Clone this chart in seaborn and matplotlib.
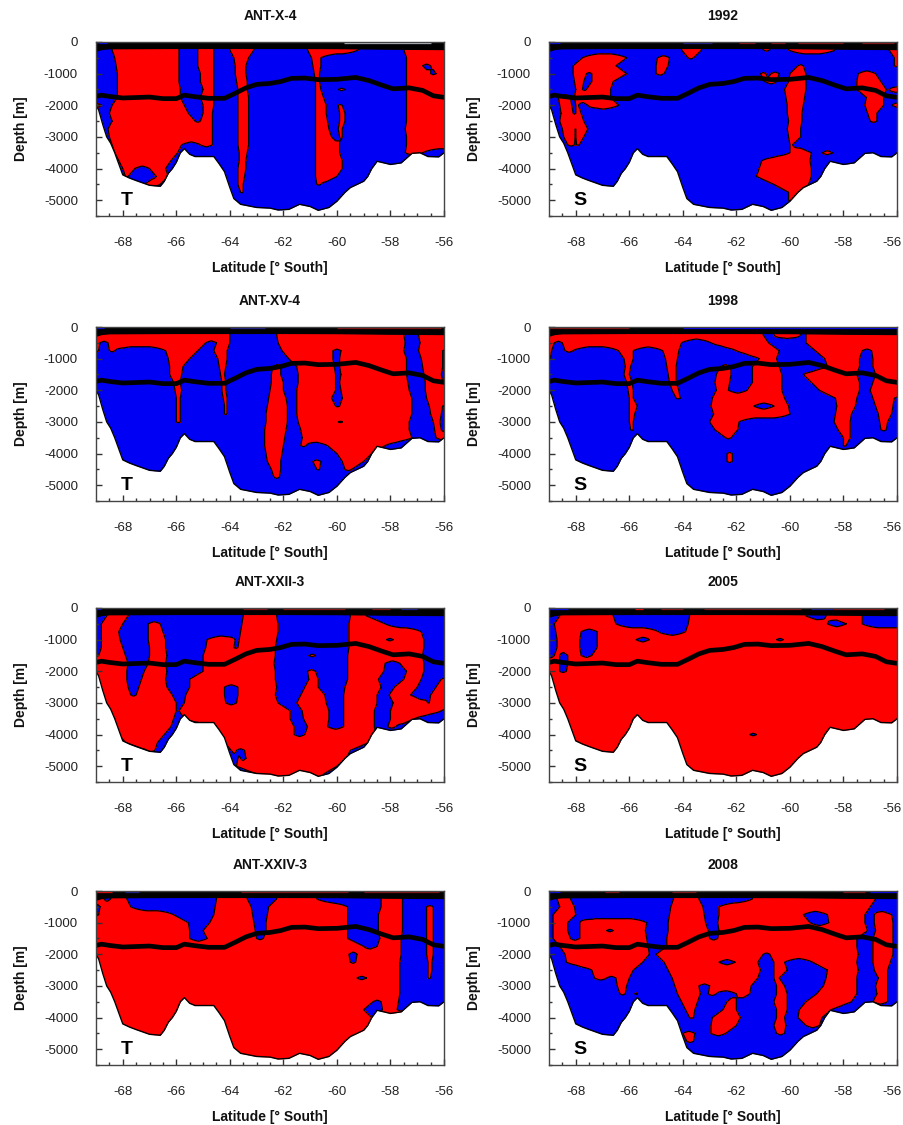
import numpy as np
import matplotlib
matplotlib.use('Agg')
import matplotlib.pyplot as plt
from matplotlib.transforms import ScaledTranslation
import seaborn as sns

W, H = 904, 1125

TITLES = ['ANT-X-4', '1992', 'ANT-XV-4', '1998', 'ANT-XXII-3', '2005', 'ANT-XXIV-3', '2008']
TAGS = ['T', 'S', 'T', 'S', 'T', 'S', 'T', 'S']
X_TICKS = [-68, -66, -64, -62, -60, -58, -56]
Y_TICKS = [0, -1000, -2000, -3000, -4000, -5000]

# sea floor
BOTTOM_LAT = [-69, -68.9, -68.75, -68.6, -68.45, -68.3, -68.15, -68, -67.75, -67.5, -67.2, -67, -66.6, -66.45,
              -66.3, -66.15, -66, -65.85, -65.7, -65.5, -65.3, -64.6, -64.4, -64.2, -64, -63.85, -63.6, -63,
              -62.5, -62.2, -61.8, -61.4, -61, -60.7, -60.3, -60, -59.7, -59.5, -59, -58.85, -58.7, -58.5, -58,
              -57.6, -57.2, -56.9, -56.6, -56.2, -56]
BOTTOM_DEPTH = [-2000, -2150, -2600, -3000, -3200, -3500, -3850, -4200, -4300, -4380, -4470, -4530, -4560, -4400,
                -4150, -4000, -3800, -3500, -3370, -3550, -3620, -3620, -3850, -4100, -4600, -4950, -5130, -5230,
                -5250, -5310, -5290, -5130, -5200, -5320, -5230, -5030, -4750, -4600, -4400, -4250, -4000, -3770,
                -3870, -3820, -3520, -3500, -3620, -3630, -3500]

# thick line in the middle of each section
MID_LAT = [-69, -68.8, -68.5, -68, -67, -66.5, -66, -65.7, -65.3, -64.8, -64.2, -63.8, -63.4, -63, -62.5, -62.1,
           -61.7, -61.2, -60.7, -60, -59.3, -58.8, -58.3, -57.9, -57.3, -56.8, -56.4, -56]
MID_DEPTH = [-1720, -1680, -1720, -1770, -1740, -1790, -1790, -1680, -1730, -1780, -1780, -1620, -1450, -1340,
             -1310, -1250, -1150, -1140, -1190, -1180, -1120, -1220, -1370, -1480, -1450, -1530, -1700, -1750]

# black band at the surface
TOP_LAT = [-69, -68.8, -68.5, -66, -62, -60, -58, -56]
TOP_DEPTH = [-190, -140, -115, -105, -105, -110, -130, -140]

# thin coloured slivers above the band, per panel
DARK_RED, DARK_BLUE, GREY = '#8c0f0f', '#1c1c90', '#b4bcc4'
STRIPS = [
    [(-68.9, -68.6, 'blue'), (-59.75, -56.5, GREY)],
    [(-68.95, -68.6, 'blue'), (-64, -62.9, DARK_BLUE), (-61.9, -61.3, DARK_RED), (-60.7, -60.2, DARK_RED),
     (-59.7, -58, DARK_RED), (-57.3, -56.1, DARK_RED)],
    [(-69, -68.7, 'blue'), (-64, -62.7, DARK_BLUE), (-60, -56.1, DARK_RED)],
    [(-69, -66, DARK_RED), (-64, -56, 'blue')],
    [(-69, -68.8, 'blue'), (-63.5, -62.6, DARK_RED), (-62, -59.7, DARK_RED), (-58.7, -58, DARK_RED), (-57.6, -57, DARK_BLUE)],
    [(-69, -68.3, 'blue'), (-65.8, -65.5, 'red'), (-64.8, -64, DARK_RED), (-63.2, -59.6, DARK_RED),
     (-59.2, -58.4, DARK_BLUE), (-58.4, -56.5, DARK_RED)],
    [(-69, -68.4, 'red'), (-67.9, -67.4, DARK_BLUE), (-63.6, -59.6, DARK_RED), (-59, -56.2, DARK_RED)],
    [(-69, -68.6, 'blue'), (-66.9, -66.4, DARK_RED), (-64.4, -63.5, DARK_RED), (-58, -57.2, DARK_RED), (-57, -56, 'blue')],
]

DEPTH_ROWS = [-250, -500, -750, -1000, -1250, -1500, -1750, -2000, -2250, -2500, -2750, -3000, -3250,
              -3500, -3750, -4000, -4250, -4500, -4750, -5000, -5250]

# patches per depth row, in latitude
PATCH_X4 = [
    [(-68.4, -65.9), (-65.2, -64.6), (-64.0, -63.1), (-61.1, -59.2), (-57.5, -56)],
    [(-68.3, -65.9), (-65.2, -64.6), (-63.85, -63.3), (-60.95, -60.6), (-57.4, -56)],
    [(-68.25, -65.9), (-65.2, -64.6), (-63.8, -63.4), (-60.9, -60.6), (-57.4, -56.8), (-56.5, -56)],
    [(-68.2, -65.9), (-65.1, -64.6), (-63.8, -63.4), (-60.85, -60.65), (-57.4, -56.5), (-56.3, -56)],
    [(-68.2, -65.9), (-65.1, -64.6), (-63.75, -63.35), (-60.8, -60.65), (-57.4, -56)],
    [(-68.2, -65.85), (-65.0, -64.6), (-63.7, -63.35), (-60.8, -60.6), (-59.95, -59.7), (-57.4, -56)],
    [(-68.2, -65.85), (-65.1, -64.6), (-63.7, -63.3), (-60.8, -60.5), (-57.4, -56)],
    [(-69, -68.8), (-68.4, -65.7), (-65.0, -64.6), (-63.7, -63.3), (-60.8, -60.4), (-59.95, -59.8), (-57.4, -56)],
    [(-68.5, -65.55), (-65.0, -64.65), (-63.7, -63.3), (-60.8, -60.4), (-59.9, -59.7), (-57.4, -56)],
    [(-68.4, -65.3), (-65.1, -64.65), (-63.7, -63.3), (-60.8, -60.35), (-59.9, -59.7), (-57.4, -56)],
    [(-68.55, -64.65), (-63.7, -63.3), (-60.8, -60.3), (-59.95, -59.8), (-57.45, -56)],
    [(-68.5, -64.65), (-63.7, -63.3), (-60.8, -60.2), (-59.9, -59.8), (-57.4, -56)],
    [(-68.4, -65.8), (-65.1, -64.65), (-63.7, -63.3), (-60.8, -59.9), (-57.4, -56)],
    [(-68.3, -65.95), (-63.65, -63.35), (-60.8, -59.9), (-57.45, -56.8)],
    [(-68.15, -66.2), (-63.65, -63.4), (-60.8, -59.8)],
    [(-68.0, -67.55), (-67.0, -66.4), (-63.7, -63.4), (-60.8, -59.8)],
    [(-67.9, -67.8), (-66.75, -66.3), (-63.7, -63.45), (-60.8, -60.0)],
    [(-67.2, -66.6), (-63.7, -63.5), (-60.75, -60.6)],
    [(-63.6, -63.5)],
]
PATCH_1992 = [
    [(-64.05, -63.3), (-61.0, -60.75), (-60.05, -58.3), (-56.3, -56)],
    [(-67.75, -66.1), (-64.95, -64.5), (-63.8, -63.6), (-56.1, -56)],
    [(-68.1, -66.5), (-65.0, -64.55), (-59.7, -59.5), (-56.1, -56)],
    [(-68.1, -67.6), (-67.4, -66.1), (-65.0, -64.7), (-61.1, -60.9), (-60.7, -60.4), (-60, -59.4), (-57.45, -56.8)],
    [(-68.05, -67.7), (-67.4, -66.6), (-60.95, -60.5), (-60.05, -59.4), (-57.5, -56.6)],
    [(-68, -67.75), (-67.6, -66.7), (-60.2, -59.4), (-57.5, -56.4), (-56.3, -56)],
    [(-68.65, -68.2), (-68.05, -66.7), (-60.15, -59.45), (-57.15, -56.5)],
    [(-68.6, -68.15), (-68.0, -67.9), (-67.55, -66.4), (-60.1, -59.5), (-57.2, -56.5), (-56.2, -56)],
    [(-68.55, -68.1), (-68.0, -67.8), (-60.1, -59.55), (-57.1, -56.75)],
    [(-68.6, -67.7), (-60.05, -59.55), (-57.0, -56.75)],
    [(-68.5, -68.05), (-68.0, -67.55), (-60.1, -59.6)],
    [(-68.45, -68.05), (-68, -67.7), (-60.05, -59.6)],
    [(-68.3, -68.05), (-67.97, -67.87), (-60.0, -59.9)],
    [(-60.0, -59.2), (-58.8, -58.4)],
    [(-61.05, -59.25)],
    [(-61.15, -59.2)],
    [(-61.25, -59.2)],
    [(-60.6, -59.3)],
    [(-60.05, -59.6)],
    [(-60.05, -59.8)],
]
PATCH_XV4 = [
    [(-69, -64), (-62.25, -57.5), (-56.95, -56)],
    [(-69, -68.85), (-68.55, -64.9), (-64.5, -64.0), (-62.2, -57.45), (-56.9, -56)],
    [(-69, -68.9), (-68.5, -68.3), (-66.4, -65.2), (-64.6, -64.1), (-62.05, -60.15), (-59.85, -57.5), (-56.95, -56.05)],
    [(-66.3, -65.5), (-64.45, -64.1), (-61.8, -60.15), (-59.9, -57.4), (-56.85, -56.05)],
    [(-66.25, -65.75), (-64.4, -64.15), (-62.4, -62.1), (-61.5, -60.1), (-59.9, -57.4), (-56.8, -56.05)],
    [(-66.25, -65.8), (-64.35, -64.2), (-62.45, -62.1), (-61.45, -60.05), (-59.85, -57.4), (-56.75, -56.1)],
    [(-66.1, -65.85), (-64.3, -64.15), (-62.45, -62), (-61.45, -60.05), (-59.9, -57.35), (-56.7, -56.05)],
    [(-66.05, -65.8), (-64.3, -64.15), (-62.5, -62), (-61.5, -60.05), (-59.85, -57.3), (-56.7, -56)],
    [(-66, -65.85), (-64.25, -64.1), (-62.55, -61.9), (-61.5, -60.2), (-59.8, -57.2), (-56.65, -56)],
    [(-66, -65.85), (-64.2, -64.1), (-62.6, -61.85), (-61.5, -60.05), (-59.9, -57.2), (-56.55, -56.05)],
    [(-66, -65.85), (-64.2, -64.1), (-62.65, -61.85), (-61.5, -57.2), (-56.5, -56.1)],
    [(-66, -65.85), (-62.65, -61.85), (-61.45, -59.95), (-59.8, -57.3), (-56.4, -56.15)],
    [(-62.7, -61.9), (-61.35, -57.3), (-56.35, -56.1)],
    [(-62.7, -61.95), (-61.3, -57.2), (-56.3, -56)],
    [(-62.7, -62), (-61.35, -61.15), (-60.35, -58.2)],
    [(-62.65, -62.05), (-60, -58.7)],
    [(-62.6, -62.1), (-60.9, -60.6), (-59.8, -59.0)],
    [(-62.45, -62.1), (-60.75, -60.65), (-59.7, -59.45)],
    [(-62.35, -62.15)],
]
PATCH_1998 = [
    [(-69, -61), (-60.6, -59.6), (-59.4, -56)],
    [(-69, -68.8), (-68.5, -64.05), (-62.95, -60.8), (-59.4, -56)],
    [(-69, -68.9), (-68.4, -68.1), (-66.4, -65.85), (-64.75, -64.15), (-62, -60.4), (-59.05, -57.3), (-56.95, -56)],
    [(-69, -68.95), (-66.2, -65.85), (-64.65, -64.2), (-61.15, -60.5), (-58.7, -57.4), (-56.9, -56)],
    [(-66.15, -65.95), (-64.6, -64.25), (-62.6, -62.2), (-61.4, -60.4), (-58.6, -57.4), (-56.9, -56)],
    [(-66.2, -66), (-64.55, -64.25), (-62.75, -62.2), (-61.4, -60.3), (-59.5, -57.5), (-56.8, -56)],
    [(-66.1, -65.9), (-64.5, -64.25), (-62.8, -62.25), (-61.4, -60.3), (-59.2, -57.4), (-56.9, -56)],
    [(-66.05, -65.85), (-64.4, -64.15), (-62.75, -62.3), (-61.6, -60.3), (-58.9, -57.4), (-57, -56)],
    [(-66, -65.85), (-64.25, -64.1), (-62.9, -60.2), (-58.3, -57.5), (-56.9, -56.1)],
    [(-66, -65.7), (-62.95, -61.35), (-60.6, -60.05), (-58.25, -57.55), (-56.8, -56.15)],
    [(-66, -65.8), (-62.85, -60.0), (-58.3, -57.7), (-56.7, -56.2)],
    [(-66, -65.85), (-63, -61.9), (-58.35, -57.75), (-56.65, -56.35)],
    [(-65.95, -65.85), (-62.8, -61.95), (-58.2, -57.75), (-56.6, -56.4)],
    [(-62.4, -62.2), (-58, -57.75)],
    [(-58, -57.9)],
    [(-62.35, -62.15)],
    [(-62.35, -62.15)],
]
PATCH_XXII = [
    [(-68.6, -67.8), (-63.5, -62.25), (-59.5, -58.9)],
    [(-68.8, -68), (-67.05, -66.6), (-63.55, -62.2), (-59.55, -58.2)],
    [(-68.8, -68.15), (-67.05, -66.5), (-63.6, -62.2), (-59.55, -56.85)],
    [(-68.8, -68.1), (-67.05, -66.4), (-64.85, -63.8), (-63.65, -62.25), (-59.55, -58.15), (-57.9, -56.75)],
    [(-68.8, -68), (-67, -66.4), (-64.9, -63.85), (-63.7, -62.3), (-59.55, -56.75)],
    [(-68.9, -67.9), (-67, -66.35), (-65, -62.3), (-61.05, -60.8), (-59.6, -56.8)],
    [(-69, -67.8), (-67.05, -66.4), (-65, -62.35), (-59.6, -58.2), (-57.65, -56.75)],
    [(-69, -67.85), (-67.2, -66.35), (-65, -62.3), (-61.1, -60.8), (-59.6, -58.25), (-57.4, -56.75)],
    [(-68.9, -67.85), (-67.3, -66.4), (-65.5, -62.3), (-61.05, -60.7), (-59.6, -58.45), (-57.5, -56.85), (-56.1, -56)],
    [(-68.85, -67.8), (-67.4, -66.35), (-65.5, -64.2), (-63.7, -62.25), (-61.2, -60.7), (-59.7, -58.35), (-57.85, -57), (-56.3, -56)],
    [(-68.8, -67.7), (-67.5, -66.15), (-65.65, -64.2), (-63.7, -62.3), (-61.35, -60.45), (-59.75, -58.5), (-58.05, -57.25), (-56.5, -56)],
    [(-68.65, -66), (-65.7, -64.15), (-63.75, -62.2), (-61.5, -60.4), (-59.75, -58.5), (-57.9, -56.6), (-56.55, -56)],
    [(-68.5, -66), (-65.9, -61.75), (-61.3, -60.3), (-59.75, -58.6), (-58, -56.1)],
    [(-68.3, -66.1), (-65.7, -61.75), (-61.25, -60.3), (-59.75, -58.6), (-58, -57.1)],
    [(-68.25, -66.2), (-64.6, -61.6), (-61.1, -60.35), (-59.75, -58.6), (-58.1, -57.8)],
    [(-68.15, -66.45), (-64.5, -61.6), (-61.2, -58.55)],
    [(-67.9, -66.7), (-64.2, -58.8)],
    [(-67.1, -66.8), (-63.95, -63.75), (-63.45, -59.5)],
    [(-63.7, -63.6), (-63.4, -59.65)],
    [(-63.75, -60)],
    [(-63, -60.5)],
]
PATCH_2005 = [
    [(-69, -68.6), (-66.6, -63.75), (-59.4, -58.65), (-57.3, -56)],
    [(-69, -68.8), (-66.5, -63.8), (-58.6, -57.9), (-57.3, -56)],
    [(-69, -68.75), (-67.8, -67.2), (-64.9, -63.9)],
    [(-69, -68.7), (-67.85, -67.2), (-65.75, -65.25), (-60.5, -60.25)],
    [(-69, -68.7), (-67.85, -67.2)],
    [(-69, -68.8), (-68.6, -68.3), (-67.8, -67.4)],
    [(-68.6, -68.3)],
    [(-68.6, -68.35)],
    [], [], [], [], [], [], [],
    [(-61.5, -61.25)],
]
PATCH_XXIV = [
    [(-68.7, -68.45), (-67.85, -64.5), (-63.35, -62.25), (-60.75, -58.35), (-57.55, -56)],
    [(-69, -68.85), (-67.7, -64.55), (-63.2, -62.55), (-59.6, -58.35), (-57.55, -56.65), (-56.4, -56)],
    [(-69, -68.9), (-66.1, -64.6), (-63.15, -62.6), (-59.6, -58.45), (-57.55, -56.65), (-56.4, -56)],
    [(-65.55, -64.75), (-63.1, -62.65), (-59.6, -58.45), (-57.55, -56.65), (-56.4, -56)],
    [(-65.5, -65.0), (-63.05, -62.65), (-59.6, -58.45), (-57.55, -56.65), (-56.4, -56)],
    [(-65.5, -64.85), (-63, -62.75), (-59.6, -58.4), (-57.6, -56.65), (-56.4, -56)],
    [(-59, -58.5), (-57.6, -56.65), (-56.4, -56)],
    [(-59.55, -59.25), (-57.6, -56.65), (-56.4, -56)],
    [(-59.5, -59.3), (-57.65, -56.6), (-56.45, -56)],
    [(-57.65, -56.6), (-56.45, -56)],
    [(-59.25, -58.9), (-57.65, -56.6), (-56.5, -56)],
    [(-57.65, -56)],
    [(-57.65, -56)],
    [(-58.65, -58.35), (-57.7, -56)],
    [(-59, -58.3), (-57.75, -56)],
    [(-58.7, -58.6)],
]
PATCH_2008 = [
    [(-68.7, -68.2), (-64.35, -63.4), (-61.4, -56.8)],
    [(-68.6, -68.05), (-64.45, -63.25), (-62.65, -57)],
    [(-68.85, -68), (-64.5, -63.2), (-62.65, -59.5), (-58.6, -57.2), (-56.85, -56.2)],
    [(-68.85, -68.3), (-67.85, -65.35), (-64.55, -63.15), (-62.7, -59.25), (-58.55, -57.2), (-56.85, -56.15)],
    [(-68.85, -68.3), (-67.85, -66.85), (-66.6, -65.4), (-64.55, -63.05), (-62.65, -57.1), (-56.8, -56.15)],
    [(-68.85, -68.2), (-67.85, -65.35), (-64.6, -63), (-62.7, -57.5), (-56.9, -56.15)],
    [(-68.6, -65.3), (-64.6, -57.5), (-56.9, -56.15)],
    [(-68.4, -65.25), (-65, -61), (-60.75, -57.45), (-56.9, -56.15)],
    [(-68.35, -65.5), (-64.7, -62.65), (-62.05, -61.2), (-60.6, -60.2), (-59.15, -57.5), (-56.9, -56.25)],
    [(-67.4, -65.85), (-64.55, -61.1), (-60.6, -60.1), (-58.6, -57.45), (-56.85, -56.35)],
    [(-67.3, -66.85), (-66.5, -66), (-64.4, -61.2), (-60.6, -60.4), (-58.65, -57.5), (-56.7, -56.35)],
    [(-66.45, -66.1), (-64.3, -63.4), (-63, -61.45), (-60.5, -60.2), (-58.75, -57.5), (-56.8, -56.35)],
    [(-66.35, -66.15), (-65.8, -65.7), (-64.2, -63.35), (-63.05, -62.75), (-62, -61.5), (-60.5, -60.1), (-59, -57.5), (-56.75, -56.35)],
    [(-64.05, -63.45), (-62.35, -62), (-60.6, -60.1), (-59.4, -57.7), (-56.9, -56.35)],
    [(-63.9, -63.55), (-62.5, -62), (-60.5, -60.1), (-59.65, -58.45)],
    [(-63.75, -63.6), (-62.9, -61.85), (-60.5, -60.2), (-59.7, -58.8)],
    [(-62.95, -62), (-60.6, -60.15), (-59.4, -58.9)],
    [(-64, -63.55), (-62.95, -62.4), (-60.5, -60.2)],
    [(-63.85, -63.6)],
]
PATCHES = [PATCH_X4, PATCH_1992, PATCH_XV4, PATCH_1998, PATCH_XXII, PATCH_2005, PATCH_XXIV, PATCH_2008]
# colour of the background of the panel, the patches have the other one
RED_BASE = [False, False, False, False, False, True, True, False]

# axes boxes in pixels: left, top
COL_X = [96, 549]
ROW_Y = [42, 327, 608, 891]
AX_W, AX_H = 348, 174


def row_distance(lat, spans, cap=0.6):
    # signed distance to the patch edges along one depth row, so that
    # the edges move smoothly from one row to the next
    if not spans:
        return np.full(lat.shape, -cap)
    inside = np.zeros(lat.shape, dtype=bool)
    edges = []
    for a, b in spans:
        inside |= (lat >= a) & (lat <= b)
        edges += [e for e in (a, b) if -69 < e < -56]
    if not edges:
        return np.full(lat.shape, cap)
    dist = np.abs(lat[:, None] - np.array(edges)[None, :]).min(axis=1)
    return np.clip(np.where(inside, dist, -dist), -cap, cap)


def build_field(patches, red_base):
    lat = np.arange(-69, -55.99, 0.05)
    rows = [patches[i] if i < len(patches) else [] for i in range(len(DEPTH_ROWS))]
    # first and last row are carried on to the surface and to the frame
    rows = [rows[0]] + rows + [rows[-1]]
    depth = np.array([0] + DEPTH_ROWS + [-5500])
    field = np.array([row_distance(lat, spans) for spans in rows])
    return lat, depth, -field if red_base else field


sns.set_style('ticks')
plt.rcParams['font.family'] = ['Liberation Sans', 'DejaVu Sans']
plt.rcParams['axes.unicode_minus'] = False

fig = plt.figure(figsize=(W / 100, H / 100), dpi=100, facecolor='white')

for n, title in enumerate(TITLES):
    left = COL_X[n % 2]
    top = ROW_Y[n // 2]
    ax = fig.add_axes([left / W, 1 - (top + AX_H) / H, AX_W / W, AX_H / H])

    # everything stays below 2.5 so the ticks are drawn on top
    lat, depth, field = build_field(PATCHES[n], RED_BASE[n])
    ax.contourf(lat, depth, field, levels=[-10, 0, 10], colors=['#0000f5', '#ff0000'], zorder=1)
    ax.contour(lat, depth, field, levels=[0], colors='black', linewidths=0.9, zorder=1.2)

    ax.fill_between(BOTTOM_LAT, BOTTOM_DEPTH, -5500, color='white', lw=0, zorder=1.4)
    sns.lineplot(x=BOTTOM_LAT, y=BOTTOM_DEPTH, color='black', lw=1.0, ax=ax, errorbar=None, zorder=1.6)
    sns.lineplot(x=MID_LAT, y=MID_DEPTH, color='black', lw=3.4, ax=ax, errorbar=None, zorder=1.8)
    sns.lineplot(x=TOP_LAT, y=TOP_DEPTH, color='black', lw=5.4, ax=ax, errorbar=None, zorder=1.8)
    for a, b, c in STRIPS[n]:
        ax.hlines(-18, a, b, color=c, lw=0.9, zorder=2)

    ax.set_xlim(-69, -56)
    ax.set_ylim(-5500, 0)
    ax.set_xticks(X_TICKS)
    ax.set_xticklabels([str(v) for v in X_TICKS])
    ax.set_yticks(Y_TICKS)
    ax.set_yticklabels([str(v) for v in Y_TICKS])
    ax.set_xticks(np.arange(-68.5, -56, 0.5), minor=True)
    ax.set_yticks(np.arange(-5500, 0, 500), minor=True)
    ax.tick_params(axis='both', which='major', direction='in', length=4.5, width=1.0, color='#333333',
                   labelsize=9.5, labelcolor='#222222')
    ax.tick_params(axis='both', which='minor', direction='in', length=2.5, width=1.0, color='#333333')
    ax.tick_params(axis='x', which='major', pad=15, bottom=True)
    ax.tick_params(axis='x', which='minor', bottom=True)
    ax.tick_params(axis='y', which='major', pad=13, left=True)
    ax.tick_params(axis='y', which='minor', left=True)
    ax.set_axisbelow(False)
    for s in ax.spines.values():
        s.set_visible(True)
        s.set_color('#444444')
        s.set_linewidth(1.0)
        s.set_zorder(10)

    # the last label of the right column would run off the picture
    if n % 2 == 1:
        last = ax.get_xticklabels()[-1]
        last.set_transform(last.get_transform() + ScaledTranslation(-5 / 100, 0, fig.dpi_scale_trans))

    ax.set_xlabel('Latitude [° South]', fontsize=10, fontweight='bold', color='#111111', va='center')
    ax.xaxis.set_label_coords(0.5, -0.3)
    ax.set_ylabel('Depth [m]', fontsize=10, fontweight='bold', color='#111111', va='center')
    ax.yaxis.set_label_coords(-0.215, 0.5)
    ax.set_title(title, fontsize=10, fontweight='bold', color='#111111', pad=15.5)
    ax.text(-67.85, -5000, TAGS[n], fontsize=14, fontweight='bold', color='black', ha='center', va='center', zorder=6)

fig.savefig('out.png', dpi=100, facecolor='white')
